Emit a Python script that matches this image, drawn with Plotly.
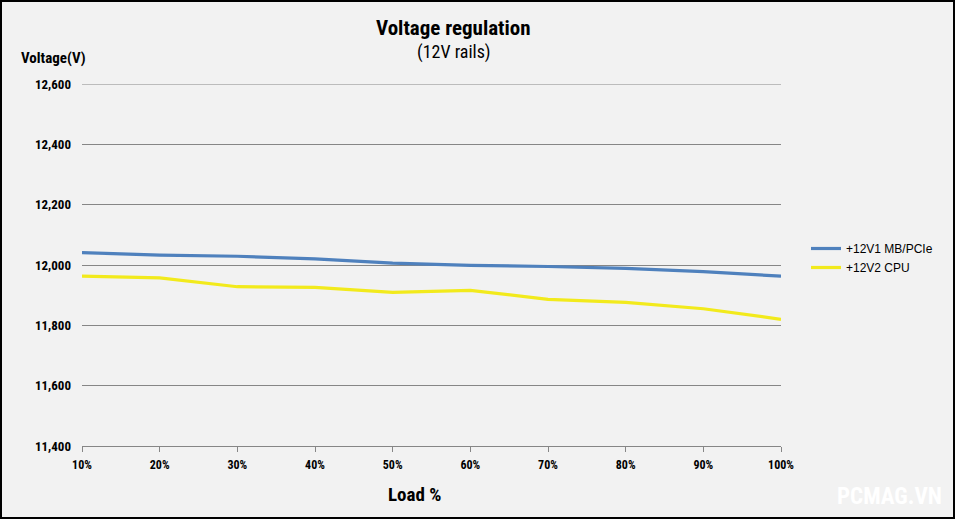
import plotly.graph_objects as go

loads = ["10%", "20%", "30%", "40%", "50%", "60%", "70%", "80%", "90%", "100%"]
rail1_mb_pcie = [12041, 12033, 12029, 12020, 12006, 11999, 11995, 11989, 11978, 11963]
rail2_cpu = [11963, 11957, 11928, 11926, 11909, 11916, 11886, 11876, 11855, 11820]
y_ticks = [11400, 11600, 11800, 12000, 12200, 12400, 12600]

W, H = 955, 519
L, R, T, B = 82, 174, 84, 73
pw, ph = W - L - R, H - T - B

def px(x):
    return (x - L) / pw

def py(y):
    return (H - B - y) / ph

NARROW = "Liberation Sans Narrow, Arial Narrow, Roboto Condensed, Roboto, sans-serif"

fig = go.Figure()
fig.add_trace(go.Scatter(x=loads, y=rail1_mb_pcie, mode="lines", name="+12V1 MB/PCIe",
                         line=dict(color="#4f81bd", width=3.2)))
fig.add_trace(go.Scatter(x=loads, y=rail2_cpu, mode="lines", name="+12V2 CPU",
                         line=dict(color="#f2ea1c", width=3.2)))

def note(text, x, y, size, xanchor="center"):
    return dict(text=text, x=px(x), y=py(y), xref="paper", yref="paper",
                xanchor=xanchor, yanchor="middle", showarrow=False,
                font=dict(family=NARROW, size=size, color="#000000"))

anns = [
    note("<b>Voltage regulation</b>", 453, 28, 21),
    note("(12V rails)", 454, 52, 18),
    note("<b>Voltage(V)</b>", 19, 58, 15, xanchor="left"),
    note("<b>Load %</b>", 414, 494, 19),
    note("<b>PCMAG.VN</b>", 889, 497, 23),
]
anns[-1]["font"]["color"] = "#ffffff"

fig.update_layout(
    width=W, height=H,
    margin=dict(l=L, r=R, t=T, b=B),
    paper_bgcolor="#f2f2f2", plot_bgcolor="#f2f2f2",
    showlegend=True,
    legend=dict(x=px(806), y=py(234), xanchor="left", yanchor="top",
                bgcolor="rgba(0,0,0,0)", font=dict(family="Arial, Liberation Sans, sans-serif",
                                                  size=12, color="#000000"),
                tracegroupgap=0, itemwidth=30),
    xaxis=dict(type="category", range=[0, 9], showgrid=False, zeroline=False,
               showline=True, linecolor="#868686", linewidth=1,
               ticks="outside", ticklen=5, tickcolor="#868686", ticklabelstandoff=3,
               tickfont=dict(family=NARROW, size=12, color="#000000"),
               tickvals=loads, ticktext=["<b>%s</b>" % s for s in loads]),
    yaxis=dict(range=[y_ticks[0], y_ticks[-1]], tickvals=y_ticks,
               ticktext=["<b>{:,}</b>".format(v) for v in y_ticks],
               showgrid=True, gridcolor="#868686", gridwidth=1, zeroline=False,
               showline=False, ticks="", ticklabelstandoff=10,
               tickfont=dict(family=NARROW, size=13, color="#000000")),
    annotations=anns,
    shapes=[
        dict(type="line", xref="paper", yref="y", x0=0, x1=1,
             y0=y_ticks[-1], y1=y_ticks[-1], line=dict(color="#868686", width=1), layer="below"),
        dict(type="rect", xref="paper", yref="paper",
             x0=px(1), x1=px(954), y0=py(518), y1=py(1),
             line=dict(color="#000000", width=2), fillcolor="rgba(0,0,0,0)", layer="above"),
    ],
)

fig.write_html("out.html", config={"displayModeBar": False},
               post_script="document.body.style.margin='0';document.body.style.padding='0';")
